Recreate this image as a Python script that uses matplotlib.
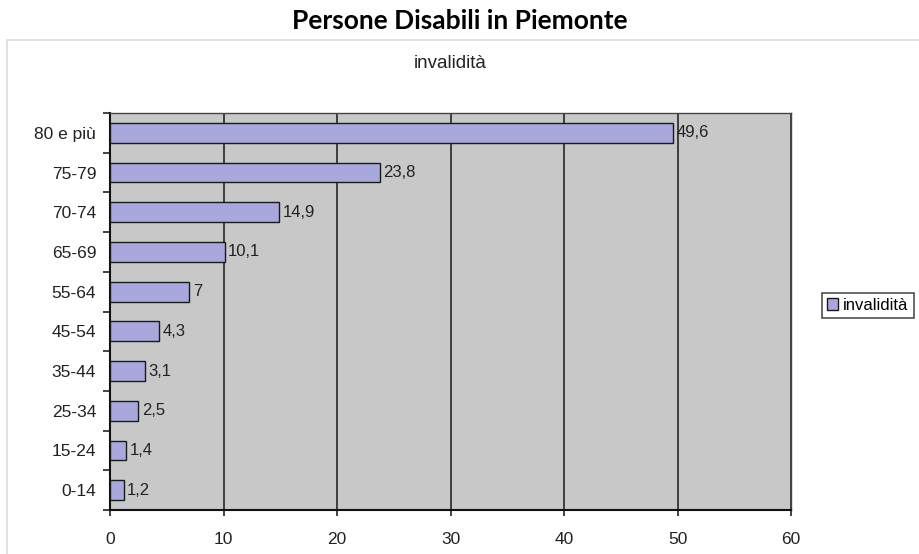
import matplotlib.pyplot as plt
from matplotlib.patches import Rectangle
import numpy as np

categories = ["0-14", "15-24", "25-34", "35-44", "45-54", "55-64",
              "65-69", "70-74", "75-79", "80 e più"]
invalidita = [1.2, 1.4, 2.5, 3.1, 4.3, 7, 10.1, 14.9, 23.8, 49.6]
xticks = [0, 10, 20, 30, 40, 50, 60]

plt.rcParams['font.family'] = ['Liberation Sans', 'DejaVu Sans']

fig = plt.figure(figsize=(9.2, 5.54), dpi=100)
ax = fig.add_axes([0.1196, 0.0794, 0.7402, 0.7166])

# outer chart frame (top and left edges)
fig.add_artist(Rectangle((0.008, -0.01), 1.1, 0.938, transform=fig.transFigure,
                         fill=False, edgecolor='#dcdcdc', linewidth=1.2))

y = np.arange(len(categories))
ax.set_facecolor('#c8c8c8')
ax.barh(y, invalidita, height=0.5, color='#a8a8dc', edgecolor='#1a1a1a',
        linewidth=1.0, label='invalidità', zorder=3)

for yi, v in zip(y, invalidita):
    ax.text(v + 0.3, yi, ('%g' % v).replace('.', ','), va='center', ha='left',
            fontsize=12, color='#222222', zorder=4)

ax.set_xlim(0, 60)
ax.set_ylim(-0.5, len(categories) - 0.5)
ax.set_xticks(xticks)
ax.set_xticklabels([str(t) for t in xticks], fontsize=12.5, color='#222222')
ax.set_yticks(y)
ax.set_yticklabels(categories, fontsize=12.5, color='#222222')
ax.set_yticks(np.arange(-0.5, len(categories)), minor=True)
ax.tick_params(axis='y', which='major', length=0, pad=10)
ax.tick_params(axis='y', which='minor', length=5, width=1.2, color='#222222')
ax.tick_params(axis='x', length=4, width=1.2, color='#222222', pad=12)

ax.grid(axis='x', color='#333333', linewidth=1.3, zorder=1)
ax.set_axisbelow(True)
for side in ['top', 'right']:
    ax.spines[side].set_color('#444444')
    ax.spines[side].set_linewidth(1.0)
for side in ['left', 'bottom']:
    ax.spines[side].set_color('#111111')
    ax.spines[side].set_linewidth(1.5)

ax.text(0.5, 1.125, 'invalidità', transform=ax.transAxes, ha='center',
        va='center', fontsize=13.5, color='#222222')
fig.text(0.5, 0.962, 'Persone Disabili in Piemonte', ha='center', va='center',
         fontsize=19, fontweight='bold', family=['Lato', 'DejaVu Sans'])

leg = fig.legend(loc='center left', bbox_to_anchor=(0.893, 0.449), fontsize=12,
                 frameon=True, fancybox=False, edgecolor='#222222',
                 handlelength=0.7, handleheight=0.7, handletextpad=0.3,
                 borderpad=0.3, borderaxespad=0)
leg.get_frame().set_linewidth(1.2)

fig.savefig('out.png', dpi=100)
